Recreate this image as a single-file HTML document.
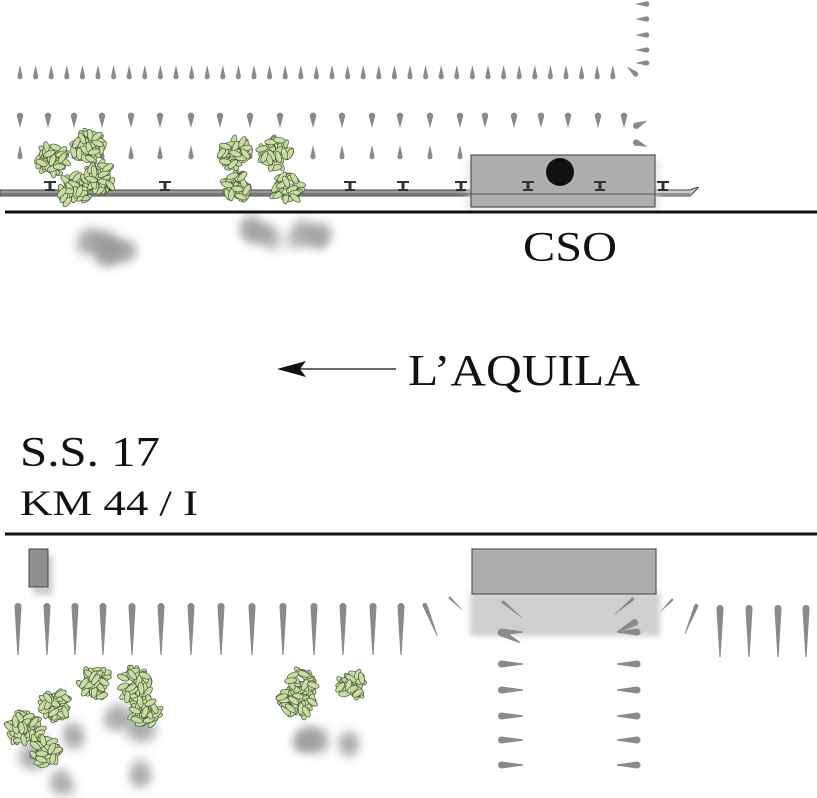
<!DOCTYPE html>
<html><head><meta charset="utf-8"><style>
html,body{margin:0;padding:0;background:#fff;}
svg{display:block}
text{font-family:"Liberation Serif",serif;fill:#111}
</style></head><body>
<svg id="s" width="817" height="798" viewBox="0 0 817 798" xmlns="http://www.w3.org/2000/svg">
<defs>
<filter id="bl" x="-80%" y="-80%" width="260%" height="260%"><feGaussianBlur stdDeviation="5"/></filter>
<filter id="bl2" x="-20%" y="-50%" width="140%" height="200%"><feGaussianBlur stdDeviation="3"/></filter>
<path id="up" d="M0,-7 L2.5,4 A2.6,2.6 0 1 1 -2.5,4 Z" fill="#8a8a8a"/>
<path id="dn" d="M0,8 L3,-3 A3.2,3.2 0 1 0 -3,-3 Z" fill="#8a8a8a"/>
<path id="tall" d="M0,0 A3.5,3.5 0 0 1 3.5,4 L0.6,52 L-0.6,52 L-3.5,4 A3.5,3.5 0 0 1 0,0 Z" fill="#8a8a8a"/>
<path id="hz" d="M0,0 A3.5,3.5 0 0 1 3.5,-3.5 L25,-0.6 L25,0.6 L3.5,3.5 A3.5,3.5 0 0 1 0,0Z" fill="#8a8a8a"/>
<path id="hzl" d="M0,-0.6 L20,-3.5 A3.5,3.5 0 1 1 20,3.5 L0,0.6Z" fill="#8a8a8a"/>
<path id="tie" d="M-6,-10 L6,-10 L6,-8 L1.5,-8 L1.5,-2 L5,-2 L5,0 L-5,0 L-5,-2 L-1.5,-2 L-1.5,-8 L-6,-8Z" fill="#333"/>
</defs>
<g id="sh"></g>
<g id="g"></g>
<rect x="0" y="190" width="690" height="6" fill="#9a9a9a" stroke="#444" stroke-width="1"/>
<path d="M655,190 L690,190 Q700,186 698,188 L690,196 L655,196Z" fill="#ccc" stroke="#444"/>
<rect x="466" y="160" width="194" height="50" fill="#ddd" filter="url(#bl2)" opacity=".6"/>
<rect x="471" y="155" width="184" height="52" fill="#acadaf" stroke="#555" stroke-width="1.2"/>
<circle cx="560" cy="172" r="14" fill="#111"/>
<line x1="0" y1="194" x2="690" y2="194" stroke="#555" stroke-width="1"/>
<g id="ties"></g>
<g id="tr"></g>
<line x1="5" y1="212" x2="817" y2="212" stroke="#111" stroke-width="3"/>
<text x="523" y="261" font-size="42" textLength="94" lengthAdjust="spacingAndGlyphs">CSO</text>
<line x1="295" y1="369" x2="396" y2="369" stroke="#111" stroke-width="1.3"/>
<path d="M277,369 L306,361 L300,369 L306,377Z" fill="#111"/>
<text x="408" y="385" font-size="44" textLength="232" lengthAdjust="spacingAndGlyphs">L’AQUILA</text>
<text x="20" y="466" font-size="42" textLength="140" lengthAdjust="spacingAndGlyphs">S.S. 17</text>
<text x="20" y="515" font-size="36" textLength="178" lengthAdjust="spacingAndGlyphs">KM 44 / I</text>
<line x1="5" y1="534" x2="817" y2="534" stroke="#111" stroke-width="3"/>
<rect x="33" y="555" width="20" height="40" fill="#bbb" filter="url(#bl2)" opacity=".7"/>
<rect x="29" y="549" width="19" height="38" fill="#8f8f8f" stroke="#444"/>
<rect x="470" y="592" width="190" height="44" fill="#cfcfcf" filter="url(#bl2)"/>
<rect x="472" y="549" width="184" height="45" fill="#acadaf" stroke="#555" stroke-width="1.2"/>
<g id="g2"></g>
</svg>
<script>
var NS="http://www.w3.org/2000/svg",g=document.getElementById("g"),g2=document.getElementById("g2"),ti=document.getElementById("ties"),shg=document.getElementById("sh"),tr=document.getElementById("tr");
var seed=7;function rnd(){seed=(seed*16807)%2147483647;return seed/2147483647;}
function el(t,a,p){var e=document.createElementNS(NS,t);for(var k in a)e.setAttribute(k,a[k]);(p||g).appendChild(e);return e;}
function use(id,x,y,r,s,p){el("use",{href:"#"+id,transform:"translate("+x+","+y+") rotate("+(r||0)+") scale("+(s||1)+")"},p);}
for(var x=20;x<=615;x+=15.6)use("up",x,72);
use("up",632,71,-50);
[4,19,35,50,63].forEach(function(y){use("up",642,y,-90);});
var xs=[20,48,74,102,131,160,191,220,250,280,313,342,372,400,430,460,485,514,541,568,598,624];
xs.forEach(function(x){use("dn",x,120);});
xs.forEach(function(x){if(x<470)use("up",x,152);});
use("dn",640,124,-115);use("dn",640,144,-70);
[50,108,165,350,403,461,528,600,663].forEach(function(x){use("tie",x,191,0,1,ti);});
[18,47,75,103,132,161,191,221,252,283,314,343,373,401].forEach(function(x){use("tall",x,603);});
use("tall",424,603,-22,0.68,g2);use("tall",449,597,-45,0.35,g2);use("tall",502,601,-50,0.48,g2);
use("tall",634,598,50,0.48,g2);use("tall",673,599,45,0.35,g2);use("tall",697,604,22,0.62,g2);
[720,749,778,806].forEach(function(x){use("tall",x,605);});
[632,664,690,716,740,765].forEach(function(y){use("hz",498,y,0,1,g2);use("hzl",617,y,0,1,g2);});
use("hz",498,631,28,1,g2);use("hzl",617,632,-28,1,g2);
function tree(cx,cy,r,n,sx,sy){
 for(var i=0;i<4;i++)el("circle",{cx:cx+sx+(rnd()-.5)*r,cy:cy+sy+(rnd()-.5)*r,r:r*0.7,fill:"#999",filter:"url(#bl)",opacity:".45"},shg);
 for(var i=0;i<n;i++){var a=rnd()*6.28,d=Math.sqrt(rnd())*r,px=cx+Math.cos(a)*d,py=cy+Math.sin(a)*d;
  el("ellipse",{cx:px,cy:py,rx:6,ry:2.8,fill:"#c8dca4",stroke:"#4a5a3a","stroke-width":".7",transform:"rotate("+(rnd()*180)+" "+px+" "+py+")"},tr);}
}
tree(52,160,14,40,40,80);tree(88,148,15,45,20,95);tree(75,190,15,40,30,60);tree(100,178,14,40,20,70);
tree(235,155,15,40,20,75);tree(275,153,15,40,25,80);tree(237,188,13,35,30,50);tree(287,188,14,35,30,50);
tree(25,728,16,50,10,25);tree(55,705,13,35,20,30);tree(45,752,13,35,20,30);
tree(95,683,15,45,25,30);tree(135,685,15,45,5,40);tree(145,712,13,35,-5,60);
tree(297,700,16,45,15,35);tree(302,683,12,30,0,60);tree(352,685,12,30,0,60);
</script>
</body></html>
